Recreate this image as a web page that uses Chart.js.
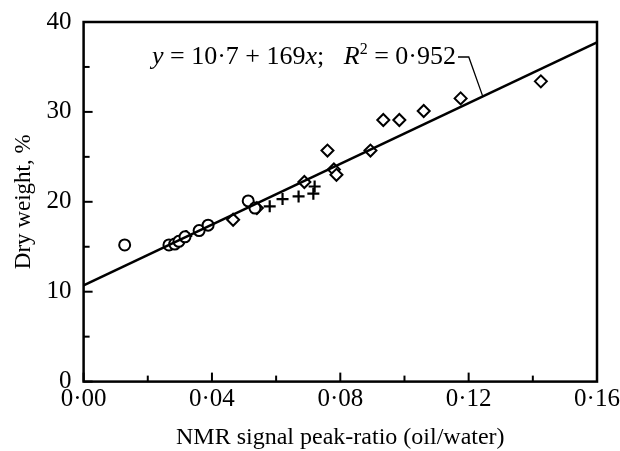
<!DOCTYPE html>
<html>
<head>
<meta charset="utf-8">
<script src="https://cdn.jsdelivr.net/npm/chart.js@4"></script>
<style>
  html, body { margin: 0; padding: 0; background: #fff; }
  #wrap { width: 620px; height: 451px; }
</style>
</head>
<body>
<div id="wrap"><canvas id="myChart" width="620" height="451"></canvas></div>
<script>
// Datos
const circleX = [0.0128, 0.0266, 0.0284, 0.0297, 0.0316, 0.036, 0.0388, 0.0513, 0.0534];
const circleY = [15.2, 15.2, 15.3, 15.6, 16.1, 16.8, 17.4, 20.1, 19.3];
const plusX = [0.032, 0.058, 0.062, 0.067, 0.0716, 0.072];
const plusY = [16.2, 19.5, 20.3, 20.6, 20.9, 21.7];
const diamondX = [0.0466, 0.054, 0.0688, 0.076, 0.078, 0.0788, 0.0894, 0.0934, 0.0984, 0.106, 0.1175, 0.1425];
const diamondY = [18.0, 19.3, 22.2, 25.7, 23.6, 23.0, 25.7, 29.1, 29.1, 30.1, 31.5, 33.4];
const intercept = 10.7;
const slope = 169;
const fitX = [0, 0.16];
const xTicks = [0, 0.04, 0.08, 0.12, 0.16];
const yTicks = [0, 10, 20, 30, 40];

const serif = '"Liberation Serif", "DejaVu Serif", serif';

function pts(xs, ys) {
    return xs.map((x, i) => ({x: x, y: ys[i]}));
}

// Marco y marcas hacia dentro
const framePlugin = {
    id: 'frame',
    afterDraw(chart) {
        const c = chart.ctx;
        const a = chart.chartArea;
        const xs = chart.scales.x;
        const ys = chart.scales.y;
        c.save();
        c.strokeStyle = '#000';
        c.lineWidth = 2.5;
        c.strokeRect(a.left, a.top, a.right - a.left, a.bottom - a.top);
        c.lineWidth = 2;
        for (let v = 0; v <= 0.1601; v += 0.02) {
            const px = xs.getPixelForValue(v);
            const major = Math.abs(v / 0.04 - Math.round(v / 0.04)) < 1e-6;
            const len = major ? 9 : 6;
            c.beginPath();
            c.moveTo(px, a.bottom);
            c.lineTo(px, a.bottom - len);
            c.stroke();
        }
        for (let v = 0; v <= 40; v += 5) {
            const py = ys.getPixelForValue(v);
            const len = v % 10 === 0 ? 9 : 6;
            c.beginPath();
            c.moveTo(a.left, py);
            c.lineTo(a.left + len, py);
            c.stroke();
        }
        c.restore();
    }
};

// Texto de la ecuacion con linea guia
const equationPlugin = {
    id: 'equation',
    afterDraw(chart) {
        const c = chart.ctx;
        const xs = chart.scales.x;
        const ys = chart.scales.y;
        const tx = 0.1244;
        const endX = xs.getPixelForValue(tx);
        const endY = ys.getPixelForValue(intercept + slope * tx);
        let x = 152;
        const y = 57;
        c.save();
        c.fillStyle = '#000';
        c.textBaseline = 'middle';
        const parts = [
            ['italic', 'y'], ['', ' = 10·7 + 169'], ['italic', 'x'], ['', ';   '],
            ['italic', 'R'], ['sup', '2'], ['', ' = 0·952']
        ];
        parts.forEach(p => {
            if (p[0] === 'sup') {
                c.font = '16px ' + serif;
                c.fillText(p[1], x, y - 7);
            } else {
                c.font = (p[0] === 'italic' ? 'italic ' : '') + '26px ' + serif;
                c.fillText(p[1], x, y);
            }
            x += c.measureText(p[1]).width;
        });
        c.strokeStyle = '#000';
        c.lineWidth = 1.3;
        c.beginPath();
        c.moveTo(x + 2, y);
        c.lineTo(endX - 14, y);
        c.lineTo(endX, endY);
        c.stroke();
        c.restore();
    }
};

const ctx = document.getElementById('myChart');
const chart = new Chart(ctx, {
    type: 'scatter',
    data: {
        datasets: [
            {
                type: 'line',
                data: fitX.map(x => ({x: x, y: intercept + slope * x})),
                borderColor: '#000',
                borderWidth: 2.6,
                pointRadius: 0,
                fill: false
            },
            {
                data: pts(circleX, circleY),
                pointStyle: 'circle',
                pointRadius: 5.5,
                backgroundColor: '#fff',
                borderColor: '#000',
                borderWidth: 2
            },
            {
                data: pts(plusX, plusY),
                pointStyle: 'cross',
                pointRadius: 6,
                borderColor: '#000',
                borderWidth: 2.2
            },
            {
                data: pts(diamondX, diamondY),
                pointStyle: 'rectRot',
                pointRadius: 6,
                backgroundColor: '#fff',
                borderColor: '#000',
                borderWidth: 2
            }
        ]
    },
    options: {
        responsive: false,
        animation: false,
        layout: {padding: {left: 10, right: 23, top: 22, bottom: 0}},
        plugins: {
            legend: {display: false},
            tooltip: {enabled: false}
        },
        scales: {
            x: {
                type: 'linear',
                min: 0,
                max: 0.16,
                afterBuildTicks: s => { s.ticks = xTicks.map(v => ({value: v})); },
                ticks: {
                    color: '#000',
                    font: {family: serif, size: 25, lineHeight: 0.8},
                    padding: 0,
                    maxRotation: 0,
                    callback: v => v.toFixed(2).replace('.', '·')
                },
                grid: {display: false},
                border: {display: false},
                title: {
                    display: true,
                    text: 'NMR signal peak-ratio (oil/water)',
                    color: '#000',
                    font: {family: serif, size: 24, lineHeight: 1.1},
                    padding: {top: 15, bottom: 0}
                }
            },
            y: {
                min: 0,
                max: 40,
                afterBuildTicks: s => { s.ticks = yTicks.map(v => ({value: v})); },
                ticks: {
                    color: '#000',
                    font: {family: serif, size: 25},
                    padding: 4
                },
                grid: {display: false},
                border: {display: false},
                title: {
                    display: true,
                    text: 'Dry weight, %',
                    color: '#000',
                    font: {family: serif, size: 23},
                    padding: {top: 0, bottom: 5}
                }
            }
        }
    },
    plugins: [framePlugin, equationPlugin]
});
</script>
</body>
</html>
